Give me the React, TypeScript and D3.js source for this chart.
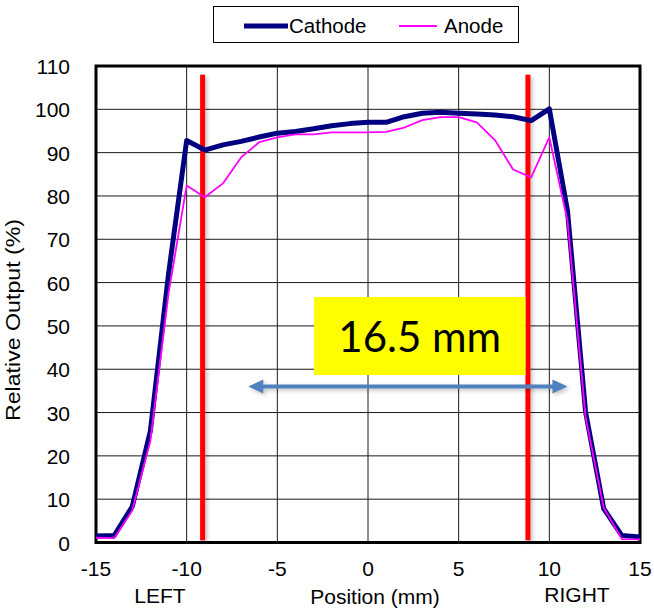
import React from "react";
import * as d3 from "d3";

// Beam profile along the position axis (mm), relative output in %
const positions = d3.range(-15, 16);
const cathode = [1.5, 1.6, 8.3, 25.8, 62, 92.8, 90.6, 91.8, 92.6, 93.6, 94.5, 94.9, 95.5, 96.2, 96.7, 97, 97, 98.3, 99.1, 99.3, 99.1, 98.9, 98.7, 98.3, 97.4, 100.1, 76.6, 30.1, 7.8, 1.6, 1.3];
const anode = [1.1, 1.0, 7.4, 23.5, 57.5, 82.4, 79.7, 82.9, 88.9, 92.4, 93.5, 94.2, 94.2, 94.7, 94.7, 94.7, 94.8, 95.8, 97.5, 98.2, 98.2, 97, 92.9, 86.1, 84.3, 93.5, 74.3, 28.9, 8, 0.8, 0.7];

const xTicks = [-15, -10, -5, 0, 5, 10, 15];
const yTicks = d3.range(0, 111, 10);

// Field edge markers and width annotation
const edgeMarkers = [-9.12, 8.82];
const edgeSpan = [0.5, 108];
const widthArrow = { from: -6.6, to: 11.0, level: 36 };
const widthLabel = "16.5 mm";

const W = 654;
const H = 610;
const plot = { left: 96, right: 640, top: 66, bottom: 542.5 };
const font = "'Liberation Sans', Arial, sans-serif";

export default function App() {
  const x = d3.scaleLinear().domain([-15, 15]).range([plot.left, plot.right]);
  const y = d3.scaleLinear().domain([0, 110]).range([plot.bottom, plot.top]);

  const line = d3
    .line<number>()
    .x((_, i) => x(positions[i]))
    .y((d) => y(d));

  const ay = y(widthArrow.level);
  const ax0 = x(widthArrow.from);
  const ax1 = x(widthArrow.to);
  const head = 15;
  const hw = 7;
  const arrowPath = `M${ax0},${ay} l${head},${-hw} v${hw - 2} H${ax1 - head} v${-(hw - 2)} l${head},${hw} l${-head},${hw} v${-(hw - 2)} H${ax0 + head} v${hw - 2} Z`;

  const boxLeft = 314;
  const boxRight = x(edgeMarkers[1]) - 2.5;

  return (
    <svg
      width={W}
      height={H}
      viewBox={`0 0 ${W} ${H}`}
      style={{ position: "absolute", left: 0, top: 0, background: "#fff" }}
    >
      <defs>
        <filter id="soft" filterUnits="userSpaceOnUse" x={0} y={0} width={W} height={H}>
          <feGaussianBlur in="SourceAlpha" stdDeviation="2" />
          <feOffset dx="2" dy="2" result="b" />
          <feComponentTransfer>
            <feFuncA type="linear" slope="0.25" />
          </feComponentTransfer>
          <feMerge>
            <feMergeNode />
            <feMergeNode in="SourceGraphic" />
          </feMerge>
        </filter>
      </defs>

      {/* grid */}
      <g stroke="#1a1a1a" strokeWidth={1}>
        {yTicks.map((t) => (
          <line key={"gy" + t} x1={plot.left} x2={plot.right} y1={y(t)} y2={y(t)} />
        ))}
        {xTicks.map((t) => (
          <line key={"gx" + t} x1={x(t)} x2={x(t)} y1={plot.top} y2={plot.bottom} />
        ))}
      </g>

      {/* frame */}
      <rect
        x={plot.left}
        y={plot.top}
        width={plot.right - plot.left}
        height={plot.bottom - plot.top}
        fill="none"
        stroke="#000"
        strokeWidth={3}
      />

      {/* field edges */}
      {edgeMarkers.map((m) => (
        <rect
          key={"edge" + m}
          x={x(m) - 2.5}
          width={5}
          y={y(edgeSpan[1])}
          height={y(edgeSpan[0]) - y(edgeSpan[1])}
          fill="#ff0000"
          filter="url(#soft)"
        />
      ))}

      {/* cathode profile */}
      <path d={line(cathode) ?? ""} fill="none" stroke="#000080" strokeWidth={5} strokeLinejoin="round" />

      {/* anode profile */}
      <path d={line(anode) ?? ""} fill="none" stroke="#ff00ff" strokeWidth={1.8} strokeLinejoin="round" />

      {/* width annotation */}
      <path d={arrowPath} fill="#4f81bd" filter="url(#soft)" />
      <rect x={boxLeft} y={297} width={boxRight - boxLeft} height={78} fill="#ffff00" />
      <text
        x={(boxLeft + boxRight) / 2}
        y={352}
        textAnchor="middle"
        fontFamily="Lato, 'Open Sans', sans-serif"
        fontSize={42}
        fill="#000"
      >
        {widthLabel}
      </text>

      {/* y ticks */}
      <g fontFamily={font} fontSize={21} fill="#000" textAnchor="end">
        {yTicks.map((t) => (
          <text key={"yl" + t} x={70} y={y(t) + 8}>
            {t}
          </text>
        ))}
      </g>
      {/* x ticks */}
      <g fontFamily={font} fontSize={21} fill="#000" textAnchor="middle">
        {xTicks.map((t) => (
          <text key={"xl" + t} x={x(t)} y={576}>
            {t}
          </text>
        ))}
        <text x={160} y={603}>LEFT</text>
        <text x={577} y={602}>RIGHT</text>
        <text x={375} y={604}>Position (mm)</text>
      </g>
      <text
        transform={`translate(20,320) rotate(-90)`}
        textAnchor="middle"
        fontFamily={font}
        fontSize={20}
        textLength={202}
        lengthAdjust="spacingAndGlyphs"
      >
        Relative Output (%)
      </text>

      {/* legend */}
      <rect x={213.5} y={6.5} width={305} height={36} fill="#fff" stroke="#000" strokeWidth={1} />
      <line x1={244} x2={288} y1={26} y2={26} stroke="#000080" strokeWidth={5} />
      <text x={289} y={33} fontFamily={font} fontSize={20.5}>Cathode</text>
      <line x1={399} x2={437} y1={26} y2={26} stroke="#ff00ff" strokeWidth={1.8} />
      <text x={444} y={33} fontFamily={font} fontSize={20.5}>Anode</text>
    </svg>
  );
}
